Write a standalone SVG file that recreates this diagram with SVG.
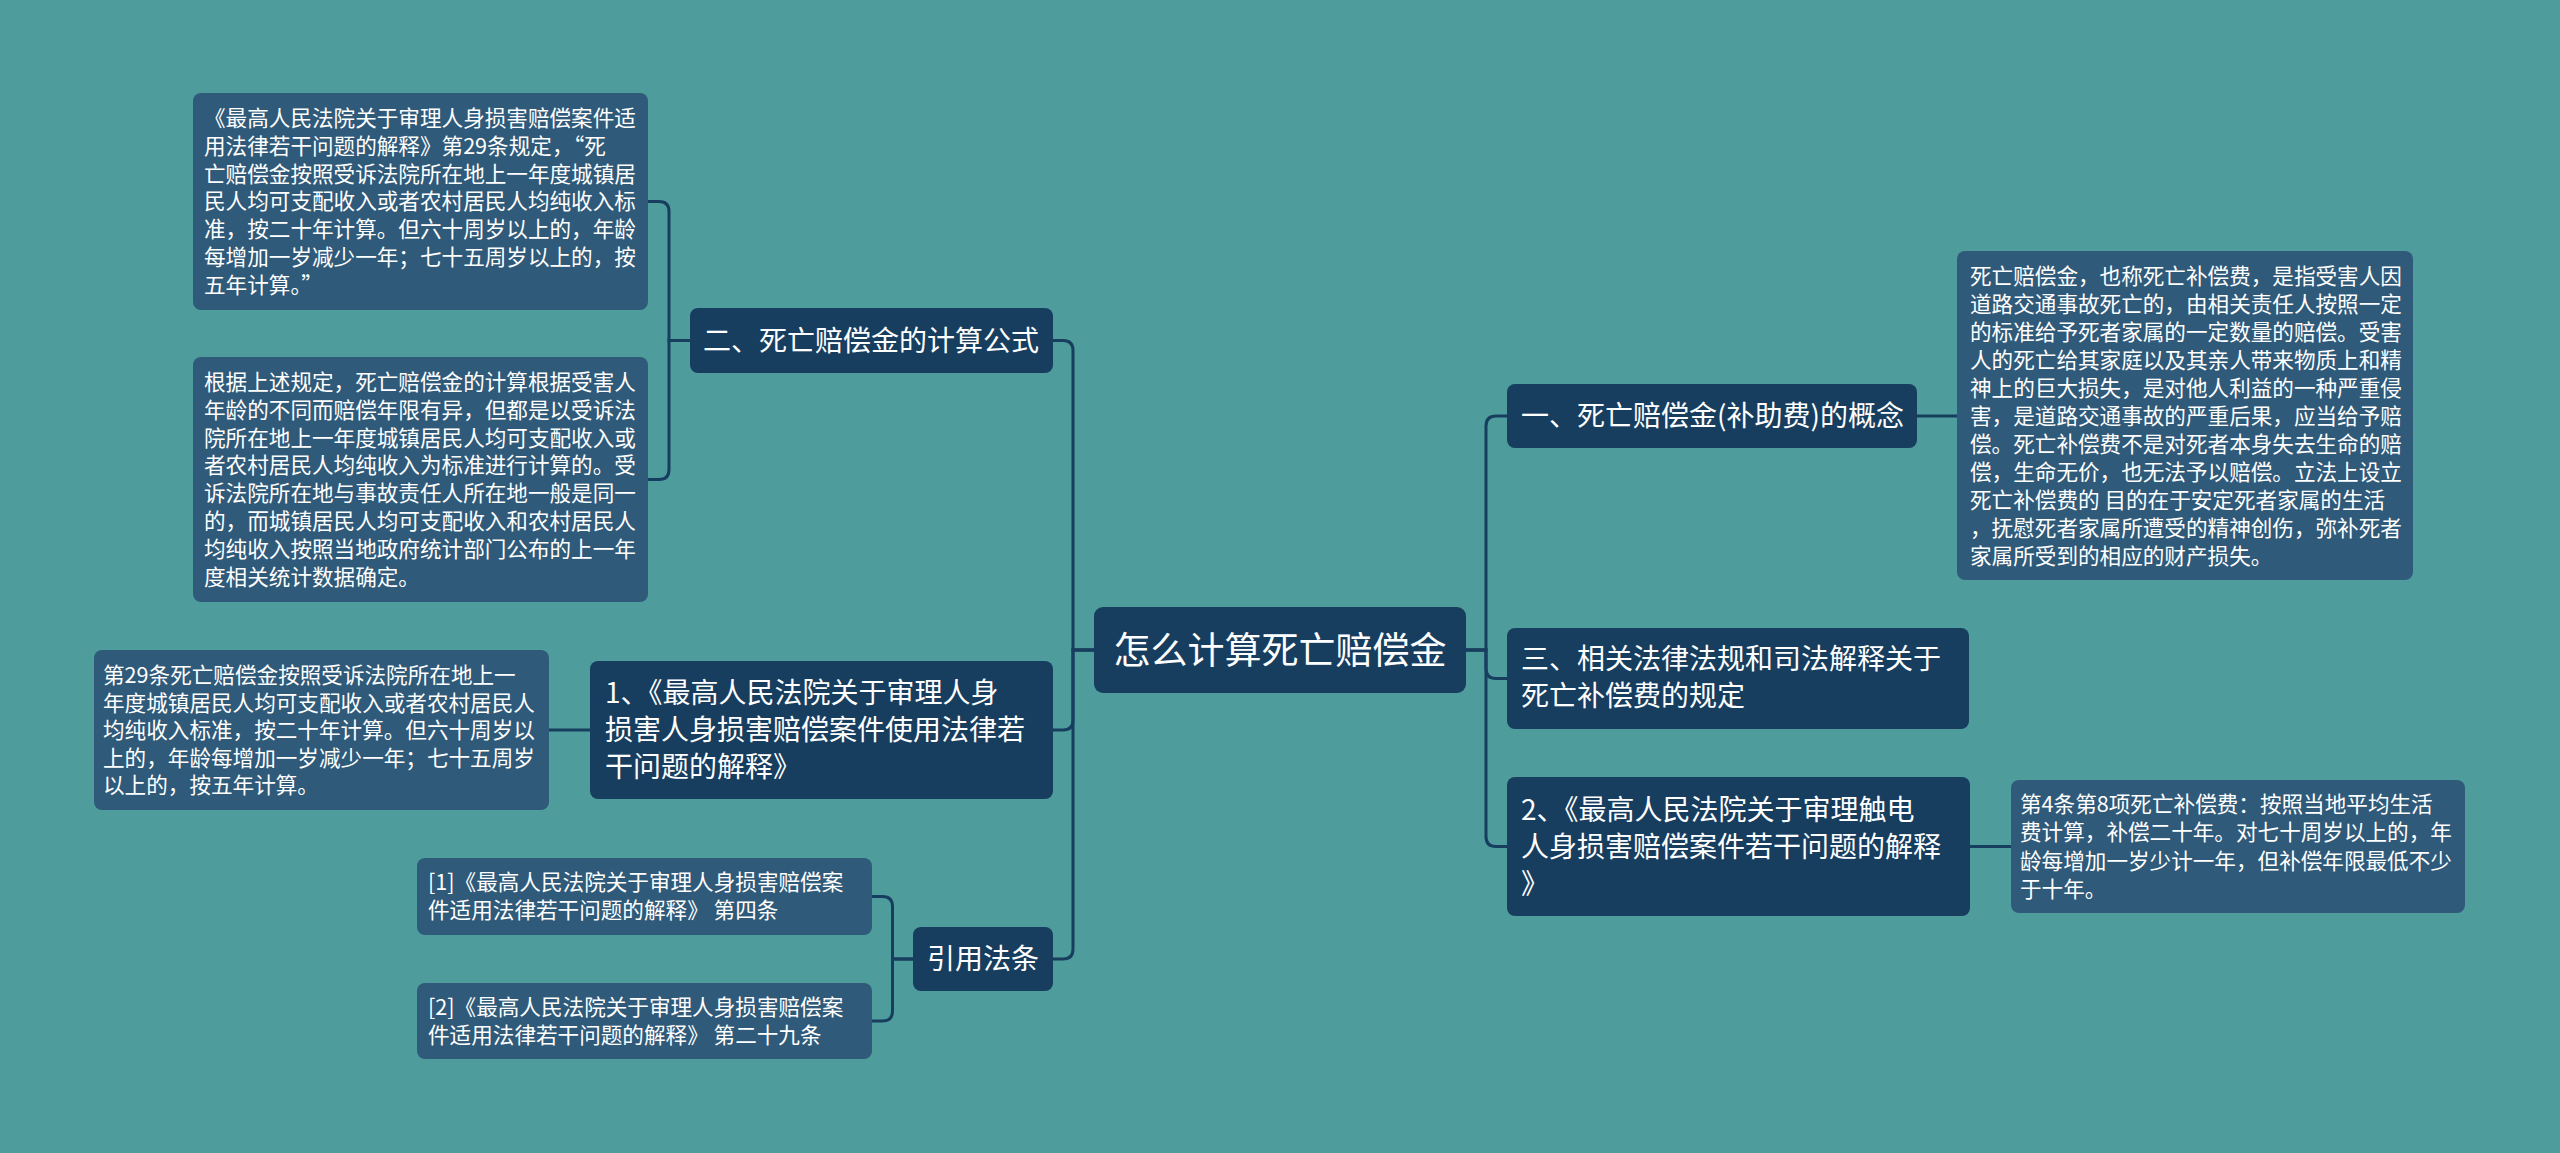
<svg xmlns="http://www.w3.org/2000/svg" width="2560" height="1153" viewBox="0 0 2560 1153">
<style>
text{font-family:"Noto Sans CJK SC","Microsoft YaHei","Noto Sans",sans-serif;fill:#ffffff}
.l1{fill:#173e5f}
.l2{fill:#2f5a7a}
.t0{font-size:37px}
.t1{font-size:28px}
.t2{font-size:21.6px}
.c{fill:none;stroke:#173e5f;stroke-width:3}
</style>
<rect width="2560" height="1153" fill="#4e9c9c"/>
<g id="connectors">
<path class="c" d="M1094 650 H1073 V350.5 Q1073 340.5 1063 340.5 H1053"/>
<path class="c" d="M1094 650 H1073 V720 Q1073 730 1063 730 H1053"/>
<path class="c" d="M1094 650 H1073 V949 Q1073 959 1063 959 H1053"/>
<path class="c" d="M1466 650 H1486 V426 Q1486 416 1496 416 H1507"/>
<path class="c" d="M1466 650 H1486 V668.5 Q1486 678.5 1496 678.5 H1507"/>
<path class="c" d="M1466 650 H1486 V836.5 Q1486 846.5 1496 846.5 H1507"/>
<path class="c" d="M690 340.5 H669 V211.5 Q669 201.5 659 201.5 H648"/>
<path class="c" d="M690 340.5 H669 V469.5 Q669 479.5 659 479.5 H648"/>
<path class="c" d="M590 730 H549"/>
<path class="c" d="M913 959 H892.5 V906.5 Q892.5 896.5 882.5 896.5 H872"/>
<path class="c" d="M913 959 H892.5 V1011 Q892.5 1021 882.5 1021 H872"/>
<path class="c" d="M1917 416 H1957"/>
<path class="c" d="M1970 846.5 H2011"/>
</g>
<g id="root">
<rect class="l1" x="1094" y="607" width="372" height="86" rx="9"/>
<text class="t0" x="1280" y="664" text-anchor="middle">怎么计算死亡赔偿金</text>
</g>
<g id="n-formula">
<rect class="l1" x="690" y="308" width="363" height="65" rx="8"/>
<text class="t1" x="703" y="351">二、死亡赔偿金的计算公式</text>
</g>
<g id="n-formula-a">
<rect class="l2" x="193" y="93" width="455" height="217" rx="8"/>
<text class="t2" x="204" y="126">
<tspan x="204" y="126">《最高人民法院关于审理人身损害赔偿案件适</tspan>
<tspan x="204" y="153.8">用法律若干问题的解释》第29条规定，“死</tspan>
<tspan x="204" y="181.6">亡赔偿金按照受诉法院所在地上一年度城镇居</tspan>
<tspan x="204" y="209.4">民人均可支配收入或者农村居民人均纯收入标</tspan>
<tspan x="204" y="237.2">准，按二十年计算。但六十周岁以上的，年龄</tspan>
<tspan x="204" y="265">每增加一岁减少一年；七十五周岁以上的，按</tspan>
<tspan x="204" y="292.8">五年计算。”</tspan>
</text>
</g>
<g id="n-formula-b">
<rect class="l2" x="193" y="357" width="455" height="245" rx="8"/>
<text class="t2">
<tspan x="204" y="390">根据上述规定，死亡赔偿金的计算根据受害人</tspan>
<tspan x="204" y="417.8">年龄的不同而赔偿年限有异，但都是以受诉法</tspan>
<tspan x="204" y="445.6">院所在地上一年度城镇居民人均可支配收入或</tspan>
<tspan x="204" y="473.4">者农村居民人均纯收入为标准进行计算的。受</tspan>
<tspan x="204" y="501.2">诉法院所在地与事故责任人所在地一般是同一</tspan>
<tspan x="204" y="529">的，而城镇居民人均可支配收入和农村居民人</tspan>
<tspan x="204" y="556.8">均纯收入按照当地政府统计部门公布的上一年</tspan>
<tspan x="204" y="584.6">度相关统计数据确定。</tspan>
</text>
</g>
<g id="n-law1">
<rect class="l1" x="590" y="661" width="463" height="138" rx="8"/>
<text class="t1">
<tspan x="605" y="703">1、《最高人民法院关于审理人身</tspan>
<tspan x="605" y="740">损害人身损害赔偿案件使用法律若</tspan>
<tspan x="605" y="777">干问题的解释》</tspan>
</text>
</g>
<g id="n-law1-a">
<rect class="l2" x="94" y="650" width="455" height="160" rx="8"/>
<text class="t2">
<tspan x="103" y="683">第29条死亡赔偿金按照受诉法院所在地上一</tspan>
<tspan x="103" y="710.6">年度城镇居民人均可支配收入或者农村居民人</tspan>
<tspan x="103" y="738.2">均纯收入标准，按二十年计算。但六十周岁以</tspan>
<tspan x="103" y="765.8">上的，年龄每增加一岁减少一年；七十五周岁</tspan>
<tspan x="103" y="793.4">以上的，按五年计算。</tspan>
</text>
</g>
<g id="n-cite">
<rect class="l1" x="913" y="927" width="140" height="64" rx="8"/>
<text class="t1" x="983" y="969" text-anchor="middle">引用法条</text>
</g>
<g id="n-cite-1">
<rect class="l2" x="417" y="858" width="455" height="77" rx="8"/>
<text class="t2">
<tspan x="428" y="890">[1]《最高人民法院关于审理人身损害赔偿案</tspan>
<tspan x="428" y="918">件适用法律若干问题的解释》 第四条</tspan>
</text>
</g>
<g id="n-cite-2">
<rect class="l2" x="417" y="983" width="455" height="76" rx="8"/>
<text class="t2">
<tspan x="428" y="1015">[2]《最高人民法院关于审理人身损害赔偿案</tspan>
<tspan x="428" y="1043">件适用法律若干问题的解释》 第二十九条</tspan>
</text>
</g>
<g id="n-concept">
<rect class="l1" x="1507" y="384" width="410" height="64" rx="8"/>
<text class="t1" x="1521" y="426">一、死亡赔偿金(补助费)的概念</text>
</g>
<g id="n-concept-a">
<rect class="l2" x="1957" y="251" width="456" height="329" rx="8"/>
<text class="t2">
<tspan x="1970" y="284">死亡赔偿金，也称死亡补偿费，是指受害人因</tspan>
<tspan x="1970" y="312">道路交通事故死亡的，由相关责任人按照一定</tspan>
<tspan x="1970" y="340">的标准给予死者家属的一定数量的赔偿。受害</tspan>
<tspan x="1970" y="368">人的死亡给其家庭以及其亲人带来物质上和精</tspan>
<tspan x="1970" y="396">神上的巨大损失，是对他人利益的一种严重侵</tspan>
<tspan x="1970" y="424">害，是道路交通事故的严重后果，应当给予赔</tspan>
<tspan x="1970" y="452">偿。死亡补偿费不是对死者本身失去生命的赔</tspan>
<tspan x="1970" y="480">偿，生命无价，也无法予以赔偿。立法上设立</tspan>
<tspan x="1970" y="508">死亡补偿费的 目的在于安定死者家属的生活</tspan>
<tspan x="1970" y="536">，抚慰死者家属所遭受的精神创伤，弥补死者</tspan>
<tspan x="1970" y="564">家属所受到的相应的财产损失。</tspan>
</text>
</g>
<g id="n-rules">
<rect class="l1" x="1507" y="628" width="462" height="101" rx="8"/>
<text class="t1">
<tspan x="1521" y="669">三、相关法律法规和司法解释关于</tspan>
<tspan x="1521" y="706">死亡补偿费的规定</tspan>
</text>
</g>
<g id="n-law2">
<rect class="l1" x="1507" y="777" width="463" height="139" rx="8"/>
<text class="t1">
<tspan x="1521" y="820">2、《最高人民法院关于审理触电</tspan>
<tspan x="1521" y="857">人身损害赔偿案件若干问题的解释</tspan>
<tspan x="1521" y="894">》</tspan>
</text>
</g>
<g id="n-law2-a">
<rect class="l2" x="2011" y="780" width="454" height="133" rx="8"/>
<text class="t2">
<tspan x="2020" y="812">第4条第8项死亡补偿费：按照当地平均生活</tspan>
<tspan x="2020" y="840.3">费计算，补偿二十年。对七十周岁以上的，年</tspan>
<tspan x="2020" y="868.6">龄每增加一岁少计一年，但补偿年限最低不少</tspan>
<tspan x="2020" y="896.9">于十年。</tspan>
</text>
</g>
</svg>
